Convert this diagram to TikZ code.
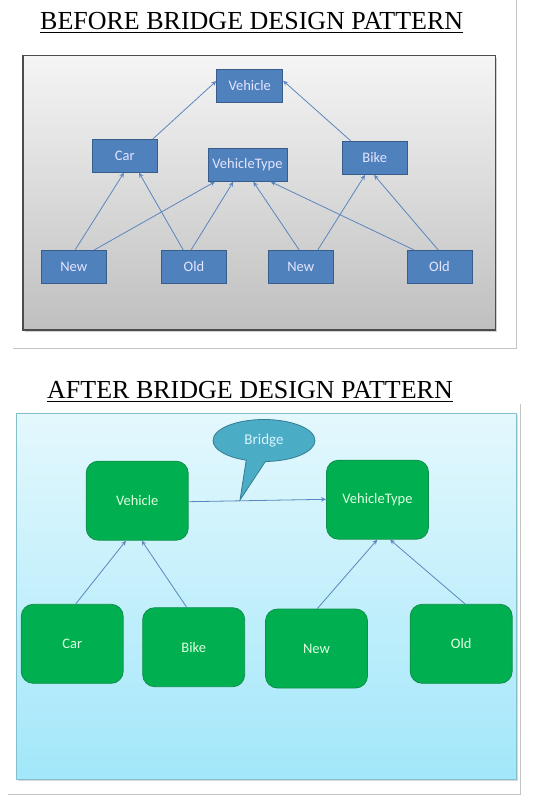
\documentclass[tikz,border=0pt]{standalone}
\usepackage{fontspec}
\setmainfont{Liberation Serif}
\newfontfamily\carlitofnt{Carlito}
\usetikzlibrary{arrows.meta,shapes.callouts,shapes.geometric}
\definecolor{nodeblue}{HTML}{4F81BD}
\definecolor{nodeblueb}{HTML}{385D8A}
\definecolor{arrblue}{HTML}{5B86BE}
\definecolor{grn}{HTML}{00B050}
\definecolor{grnb}{HTML}{0E8F47}
\definecolor{callfill}{HTML}{4BACC6}
\definecolor{callb}{HTML}{357D91}
\definecolor{pageline}{HTML}{C4C4C4}
\definecolor{skytop}{HTML}{E4F8FD}
\definecolor{skybot}{HTML}{A2E7FA}
\definecolor{skyedge}{HTML}{86BFCC}
\tikzset{
  bluebox/.style={draw=nodeblueb, line width=0.8pt, fill=nodeblue, minimum width=65pt, minimum height=33pt, inner sep=0pt, text=white!90!blue, font=\carlitofnt\fontsize{14.5}{16}\selectfont},
  greenbox/.style={draw=grnb, line width=0.8pt, fill=grn, rounded corners=12pt, minimum width=102pt, minimum height=79pt, inner sep=0pt, text=white!88!green, font=\carlitofnt\fontsize{14.5}{16}\selectfont},
  arr/.style={draw=arrblue, line width=0.8pt, -{Stealth[length=5pt,width=4.5pt,open]}},
  title/.style={font=\fontsize{26}{29}\selectfont, inner sep=0pt, anchor=base},
}
\begin{document}
\begin{tikzpicture}[x=1pt,y=-1pt]
\useasboundingbox (0,0) rectangle (535,803);
% page lines
\draw[pageline, line width=0.8pt] (516,0) -- (516,348.3) -- (13,348.3);
\draw[pageline, line width=0.8pt] (520.7,404) -- (520.7,794.3) -- (8,794.3);
% titles
\node[title] (t1) at (251.7,29.3) {BEFORE BRIDGE DESIGN PATTERN};
\draw[line width=0.9pt] ([yshift=-3pt]t1.base west) -- ([yshift=-3pt]t1.base east);
\node[title] (t2) at (250,398.3) {AFTER BRIDGE DESIGN PATTERN};
\draw[line width=0.9pt] ([yshift=-3pt]t2.base west) -- ([yshift=-3pt]t2.base east);
% top panel
\fill[black!18] (25,57.5) rectangle (497,331.5);
\shade[top color=black!4, bottom color=black!25, draw=black!70, line width=1.3pt] (23,55.7) rectangle (495.7,330);
\node[bluebox, minimum width=66pt] (veh) at (249.7,85.8) {Vehicle};
\node[bluebox] (car) at (124.7,155.7) {Car};
\node[bluebox, minimum width=79pt] (vt) at (247.5,164.8) {VehicleType};
\node[bluebox] (bike) at (374.7,158) {Bike};
\node[bluebox] (n1) at (73.8,267) {New};
\node[bluebox] (o1) at (194,267) {Old};
\node[bluebox] (n2) at (300.7,267) {New};
\node[bluebox] (o2) at (439.5,267) {Old};
\draw[arr] ([xshift=-4.6pt]car.north east) -- ([yshift=4.8pt]veh.west);
\draw[arr] ([xshift=-23.7pt]bike.north) -- ([yshift=5.1pt]veh.east);
\draw[arr] ([xshift=1.2pt]n1.north) -- ([xshift=-0.7pt]car.south);
\draw[arr] ([xshift=20.2pt]n1.north) -- ([xshift=-32.5pt]vt.south);
\draw[arr] ([xshift=-10.7pt]o1.north) -- ([xshift=14.3pt]car.south);
\draw[arr] ([xshift=-3pt]o1.north) -- ([xshift=-14.2pt]vt.south);
\draw[arr] ([xshift=-1.4pt]n2.north) -- ([xshift=5.8pt]vt.south);
\draw[arr] ([xshift=17pt]n2.north) -- ([xshift=-9.7pt]bike.south);
\draw[arr] ([xshift=-25.2pt]o2.north) -- ([xshift=23.2pt]vt.south);
\draw[arr] ([xshift=-1.2pt]o2.north) -- ([xshift=-0.7pt]bike.south);
% bottom panel
\fill[black!15] (17.5,415) rectangle (518.2,780.5);
\shade[top color=skytop, bottom color=skybot, draw=skyedge, line width=1pt] (16,413.3) rectangle (516.7,779);
\node[greenbox] (gveh) at (137.2,500.7) {Vehicle};
\node[greenbox] (gvt) at (377.5,499.7) {VehicleType};
\node[greenbox] (gcar) at (72.2,643.8) {Car};
\node[greenbox] (gbike) at (193.7,647.2) {Bike};
\node[greenbox] (gnew) at (316.5,648.5) {New};
\node[greenbox] (gold) at (461.2,643.8) {Old};
\draw[arr] ([xshift=3.5pt]gcar.north) -- ([xshift=-11.2pt]gveh.south);
\draw[arr] ([xshift=-7pt]gbike.north) -- ([xshift=4.5pt]gveh.south);
\draw[arr] ([xshift=0.8pt]gnew.north) -- ([xshift=-0.2pt]gvt.south);
\draw[arr] ([xshift=3.8pt]gold.north) -- ([xshift=12.5pt]gvt.south);
\draw[arr] ([yshift=-1pt]gveh.east) -- ([yshift=0.4pt]gvt.west);
\node[ellipse callout, draw=callb, line width=0.8pt, fill=callfill, minimum width=102pt, minimum height=42pt, inner sep=0pt, callout pointer arc=22, callout absolute pointer={(240,500)}, text=white!85!cyan, font=\carlitofnt\fontsize{15}{17}\selectfont] (bridge) at (264,440.5) {Bridge};
\end{tikzpicture}
\end{document}
